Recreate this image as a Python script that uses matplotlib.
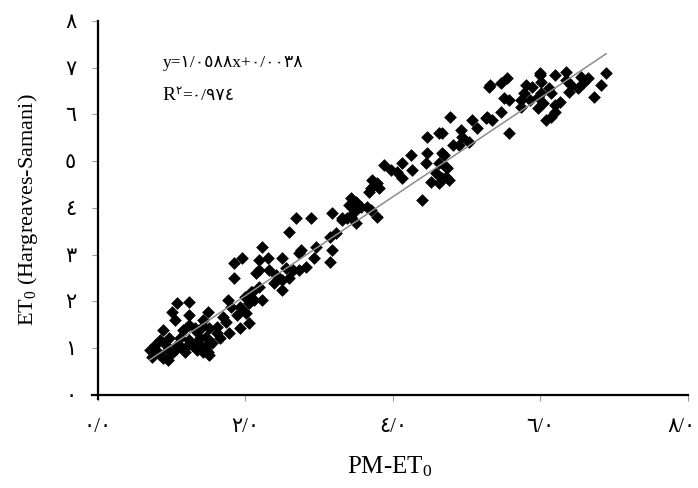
import matplotlib
matplotlib.use("Agg")
import matplotlib.pyplot as plt
import matplotlib.transforms as mtransforms
import numpy as np

plt.rcParams['font.family'] = ['Liberation Serif', 'DejaVu Sans']
plt.rcParams['mathtext.fontset'] = 'custom'
plt.rcParams['mathtext.rm'] = 'Liberation Serif'
plt.rcParams['mathtext.it'] = 'Liberation Serif:italic'

# PM-ET0 (x) and Hargreaves-Samani ET0 (y) values
pm_et0 = [
    1.85, 1.85, 2.15, 2.09, 1.07, 1.24, 1.01, 1.04, 1.24, 1.49, 1.76, 1.81, 1.92, 2.01, 1.89,
    1.69, 1.42, 1.24, 0.88, 1.15, 1.34, 1.51, 1.61, 1.74, 1.92, 2.05, 0.84, 0.97, 1.11, 1.24,
    1.38, 1.47, 1.61, 0.77, 0.93, 1.07, 1.20, 1.34, 1.45, 1.55, 0.70, 0.81, 0.95, 1.01, 1.14,
    1.34, 1.49, 0.74, 0.88, 0.95, 1.51, 1.42, 0.84, 1.18, 1.27, 1.04, 1.38, 1.65, 1.78, 1.32,
    1.43,
    2.69, 2.89, 2.59, 3.18, 3.31, 3.43, 3.45, 3.14, 3.23, 2.96, 3.18, 3.14, 2.76, 2.73, 2.49,
    2.93, 2.23, 2.30, 2.19, 1.96, 2.19, 2.32, 2.42, 2.55, 2.64, 2.73, 2.82, 2.59, 2.49, 2.39,
    2.19, 2.50, 2.08, 1.99, 2.12, 2.23, 2.05,
    4.46, 4.62, 4.82, 4.46, 4.66, 4.24, 4.12, 4.45, 4.62, 4.72, 3.88, 3.97, 4.05, 4.26, 4.12,
    4.58, 4.66, 4.76, 4.51, 4.62, 3.72, 3.78, 3.68, 3.70, 3.81, 3.43, 3.50, 3.41, 3.57, 3.65,
    3.47, 3.70, 3.78, 3.31, 3.38, 3.50, 4.39,
    5.32, 5.47, 5.54, 6.00, 5.80, 5.88, 5.77, 5.50, 5.57, 5.73, 5.74, 5.97, 6.04, 5.97, 5.47,
    5.27, 5.34, 5.07, 4.78, 5.14, 6.07, 5.57, 4.92, 4.93, 5.03, 4.89, 4.66, 4.69, 4.73, 4.72,
    6.89, 6.82, 6.72, 6.65, 6.58, 6.55, 6.51, 6.34, 6.35, 6.20, 6.00, 6.01, 6.11, 6.14, 6.01,
    6.38, 6.42, 6.27, 6.20, 6.20, 6.14, 5.86, 5.30, 5.26,
]
hs_et0 = [
    2.82, 2.50, 2.61, 2.20, 1.97, 1.99, 1.78, 1.60, 1.71, 1.78, 2.03, 1.88, 1.88, 1.75, 1.71,
    1.67, 1.60, 1.50, 1.39, 1.39, 1.35, 1.43, 1.45, 1.56, 1.43, 1.54, 1.18, 1.22, 1.22, 1.18,
    1.22, 1.24, 1.33, 1.07, 1.07, 1.07, 1.03, 1.11, 1.03, 1.11, 0.96, 0.92, 0.96, 0.90, 1.01,
    0.96, 0.92, 0.81, 0.79, 0.75, 0.86, 0.92, 0.86, 0.92, 1.07, 0.96, 1.07, 1.22, 1.33, 1.43,
    1.48,
    3.79, 3.79, 3.49, 3.89, 3.74, 3.81, 4.11, 3.38, 3.47, 3.17, 3.10, 2.84, 3.10, 3.04, 2.93,
    2.93, 3.17, 2.93, 2.89, 2.93, 2.67, 2.67, 2.57, 2.72, 2.67, 2.67, 2.74, 2.50, 2.46, 2.40,
    2.31, 2.25, 2.20, 2.10, 2.03, 2.03, 1.97,
    5.52, 5.60, 5.35, 5.18, 5.18, 5.13, 4.96, 4.96, 4.96, 4.88, 4.92, 4.81, 4.77, 4.81, 4.64,
    4.75, 4.64, 4.60, 4.56, 4.53, 4.60, 4.53, 4.34, 4.43, 4.43, 4.21, 4.13, 4.06, 4.02, 4.02,
    3.91, 3.96, 3.81, 3.79, 3.79, 3.68, 4.17,
    6.63, 6.67, 6.78, 6.84, 6.63, 6.59, 6.46, 6.35, 6.31, 6.31, 6.16, 6.37, 6.25, 6.14, 6.05,
    5.95, 5.88, 5.88, 5.95, 5.71, 5.88, 5.60, 5.67, 5.52, 5.41, 5.35, 5.60, 5.13, 4.86, 4.66,
    6.89, 6.63, 6.37, 6.78, 6.67, 6.80, 6.57, 6.91, 6.74, 6.84, 6.89, 6.70, 6.57, 6.46, 6.46,
    6.48, 6.63, 6.27, 6.20, 6.05, 5.95, 6.31, 6.59, 5.93,
]

slope = 1.0588
intercept = 0.0038

x_ticks = [0, 2, 4, 6, 8]
x_tick_labels = ['٠/٠', '٢/٠', '٤/٠', '٦/٠', '٨/٠']
y_ticks = [0, 1, 2, 3, 4, 5, 6, 7, 8]
y_tick_labels = ['٠', '١', '٢', '٣', '٤', '٥', '٦', '٧', '٨']

eq_text = 'y=١/٠٥٨٨x+٠/٠٠٣٨'
r2_sup = '٢'
r2_rest = '=٠/٩٧٤'

fig = plt.figure(figsize=(6.98, 4.88), dpi=100)
ax = fig.add_axes([92 / 698, (488 - 399) / 488, (688 - 92) / 698, (399 - 21) / 488])

ax.scatter(pm_et0, hs_et0, marker='D', s=42, color='black', linewidths=0, zorder=3)

xs = np.array([min(pm_et0), max(pm_et0)])
ax.plot(xs, slope * xs + intercept, color='#8c8c8c', lw=1.1, zorder=4)

ax.set_xlim(-0.08, 8.0)
ax.set_ylim(-0.09, 8.0)
for s in ['top', 'right']:
    ax.spines[s].set_visible(False)
ax.spines['left'].set_position(('data', 0))
ax.spines['bottom'].set_position(('data', 0))
for s in ['left', 'bottom']:
    ax.spines[s].set_linewidth(1.6)
    ax.spines[s].set_color('black')

ax.set_xticks(x_ticks)
ax.set_xticklabels(x_tick_labels)
ax.set_yticks(y_ticks)
ax.set_yticklabels(y_tick_labels)
ax.tick_params(axis='y', direction='out', length=4.5, width=0.8, color='#999999',
               labelsize=15, pad=11)
ax.tick_params(axis='x', direction='out', length=4, width=0.8, color='#999999',
               labelsize=15, pad=13)

last = ax.get_xticklabels()[-1]
last.set_transform(last.get_transform() +
                   mtransforms.ScaledTranslation(-7 / 100, 0, fig.dpi_scale_trans))

ax.set_xlabel(r'PM-ET$\mathregular{_0}$', fontsize=18, labelpad=12)
ax.set_ylabel(r'ET$\mathregular{_0}$ (Hargreaves-Samani)', fontsize=16, labelpad=18)

ax.text(0.88, 7.02, eq_text, fontsize=12.5, ha='left', va='baseline')
r_txt = ax.text(0.88, 6.3, 'R', fontsize=14, ha='left', va='baseline')
sup = ax.annotate(r2_sup, xy=(1, 0.45), xycoords=r_txt, fontsize=8.5,
                  ha='left', va='bottom')
ax.annotate(r2_rest, xy=(1, 0), xycoords=(sup, r_txt), fontsize=12.5,
            ha='left', va='bottom')

fig.savefig('out.png', dpi=100)
